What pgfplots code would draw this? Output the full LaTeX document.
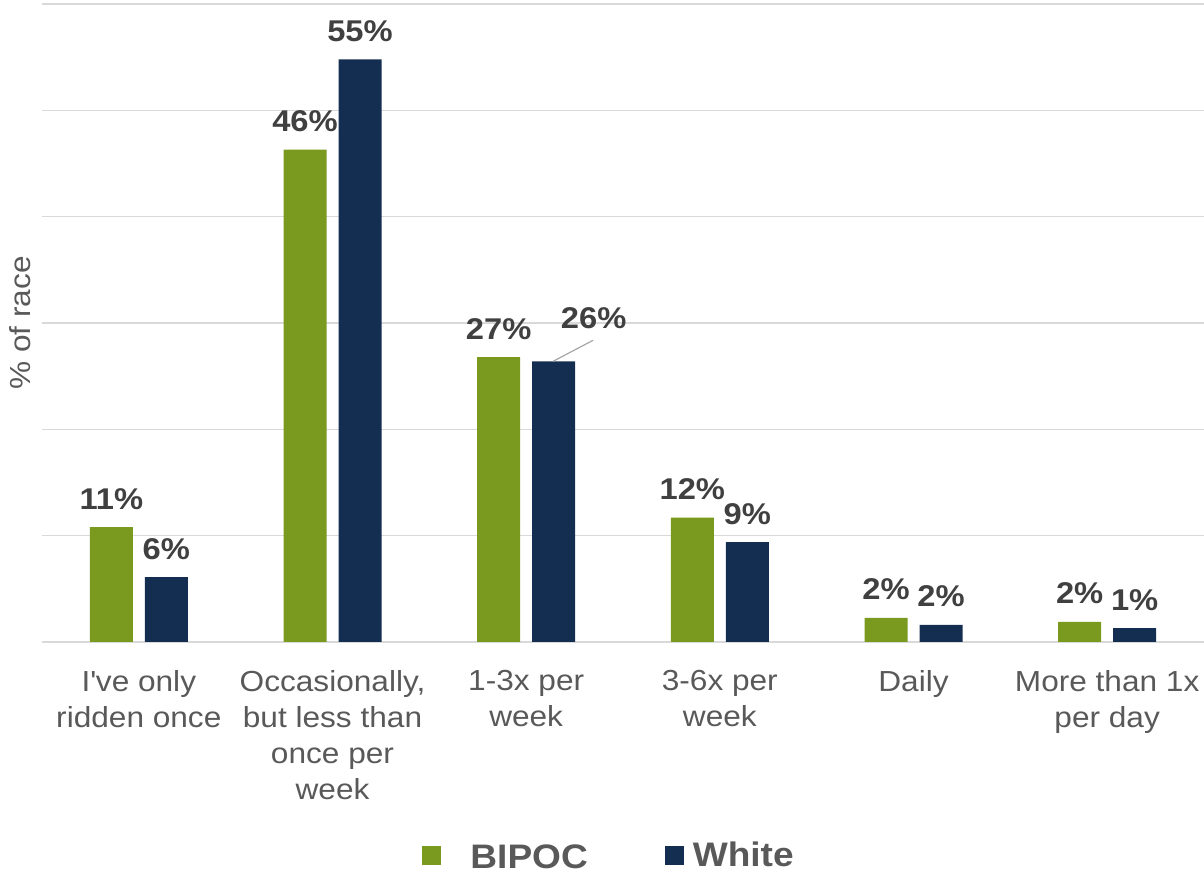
\documentclass[border=0pt]{standalone}
\usepackage{fontspec}
\setmainfont[FakeStretch=1.09]{Liberation Sans}
\usepackage{pgfplots}
\usepackage{pgfplotstable}
\pgfplotsset{compat=1.18}
\definecolor{bipoc}{RGB}{122,154,31}
\definecolor{navy}{RGB}{20,46,82}
\definecolor{lblc}{RGB}{64,64,64}
\definecolor{axtxt}{RGB}{89,89,89}
\definecolor{gridc}{RGB}{217,217,217}

\pgfplotstableread{
x y meta dx dy
0 10.8 11 0 18
1 46.3 46 0 18
2 26.8 27 0 18
3 11.7 12 0 18
4 2.26 2 0 18
5 1.9 2 0 18
}\bipoctab
\pgfplotstableread{
x y meta dx dy
0 6.1 6 0 18
1 54.8 55 0 18
2 26.4 26 40 33
3 9.4 9 0 18
4 1.6 2 0 18
5 1.3 1 0 18
}\whitetab

\begin{document}
\begin{tikzpicture}
\path[use as bounding box] (0pt,0pt) rectangle (1204pt,874pt);
\begin{axis}[
  at={(42pt,232pt)}, anchor=south west,
  scale only axis, width=1162pt, height=638pt,
  xmin=-0.5, xmax=5.5, ymin=0, ymax=60,
  ytick={0,10,...,60}, yticklabels={},
  ymajorgrids, grid style={draw=gridc, line width=1.3pt},
  xtick={0,...,5},
  xticklabels={{I\textquotesingle ve only\\ridden once},{Occasionally,\\but less than\\once per\\week},{1-3x per\\week},{3-6x per\\week},{Daily},{More than 1x\\per day}},
  xticklabel style={align=center, font=\fontsize{29}{36}\selectfont, text=axtxt, inner sep=0pt, anchor=north, yshift=-24pt},
  axis line style={draw=none}, major tick style={draw=none},
  ylabel={\% of race},
  ylabel style={at={(axis description cs:-0.019,0.5)}, anchor=center, font=\fontsize{29}{36}\selectfont, text=axtxt},
  ybar, bar width=43pt,
  point meta=explicit symbolic,
  visualization depends on={\thisrow{dx} \as \dx},
  visualization depends on={\thisrow{dy} \as \dy},
  nodes near coords={\pgfplotspointmeta\%},
  nodes near coords style={font=\fontsize{30}{30}\selectfont\bfseries, text=lblc, anchor=base, inner sep=0pt, xshift=\dx pt, yshift=\dy pt},
  legend style={at={(axis description cs:0.488,-0.334)}, anchor=center, draw=none, fill=none, legend columns=2,
    font=\fontsize{34}{34}\selectfont\bfseries, text=axtxt,
    /tikz/every even column/.append style={column sep=75pt}},
  legend image code/.code={\fill[#1] (0pt,-9.5pt) rectangle (19pt,9.5pt);},
  clip=false,
]
\addplot[fill=bipoc, draw=none, bar shift=-27.5pt] table[x=x, y=y, meta=meta] {\bipoctab};
\addlegendentry{\hspace{27pt}\raisebox{-5pt}{BIPOC}}
\addplot[fill=navy, draw=none, bar shift=27.5pt] table[x=x, y=y, meta=meta] {\whitetab};
\addlegendentry{\hspace{7pt}White}
\draw[gray!70, line width=1.2pt] ([xshift=27pt]axis cs:2,26.4) -- ([xshift=67pt,yshift=21pt]axis cs:2,26.4);
\end{axis}
\end{tikzpicture}
\end{document}
